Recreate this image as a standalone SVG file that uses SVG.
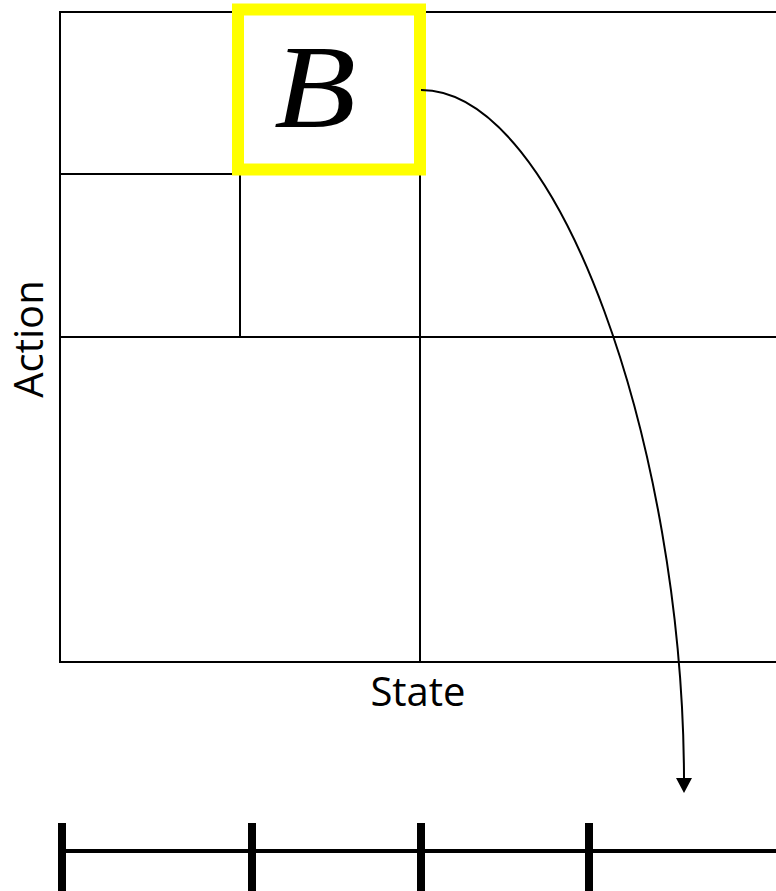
<svg xmlns="http://www.w3.org/2000/svg" width="776" height="891" viewBox="0 0 776 891">
<style>
.grid{stroke:#000;stroke-width:2;fill:none}
.lbl{font-family:"Open Sans","Liberation Sans",sans-serif;font-size:40px;fill:#000;text-anchor:middle}
.bar{stroke:#000;fill:none}
</style>
<rect width="776" height="891" fill="#fff"/>
<g id="grid">
<path class="grid" d="M776,12 H60 V662 H776 M60,174 H240 M60,337 H776 M240,174 V337 M420,12 V662"/>
</g>
<g id="nodeB">
<rect x="238" y="9.5" width="182" height="160" fill="#fff" stroke="#ffff00" stroke-width="12"/>
<text x="315" y="127" font-family="'Liberation Serif',serif" font-style="italic" font-size="118" text-anchor="middle" fill="#000" textLength="82" lengthAdjust="spacingAndGlyphs">B</text>
</g>
<g id="labels">
<text class="lbl" transform="translate(43 339) rotate(-90)">Action</text>
<text class="lbl" x="418" y="706">State</text>
</g>
<g id="connectors">
<path d="M421,90 C560,90 683,450 684,778" fill="none" stroke="#000" stroke-width="2"/>
<path d="M676,778 L692,778 L684,793 Z" fill="#000"/>
</g>
<g id="bar">
<path class="bar" stroke-width="4" d="M58,851 H776"/>
<path class="bar" stroke-width="8" d="M62,823 V891 M252,823 V891 M421,823 V891 M589,823 V891"/>
</g>
</svg>
